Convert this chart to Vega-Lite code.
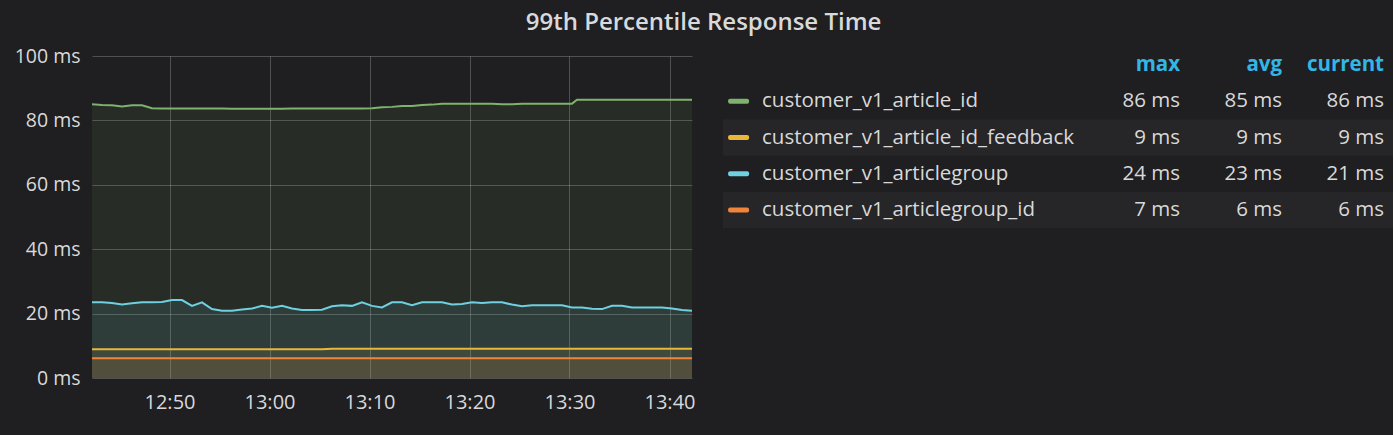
{
  "$schema": "https://vega.github.io/schema/vega-lite/v6.json",
  "background": "#1f1e20",
  "padding": {"left": 14, "top": 11, "right": 0, "bottom": 40},
  "title": {"text": "99th Percentile Response Time", "anchor": "middle", "color": "#d8d9da", "font": "Open Sans", "fontSize": 24, "fontWeight": 600, "offset": 11},
  "config": {"view": {"stroke": null}, "font": "Open Sans"},
  "datasets": {
    "ts": [
      {"time": "2017-01-01T12:42:15", "customer_v1_article_id": 85.0, "customer_v1_article_id_feedback": 8.9, "customer_v1_articlegroup": 23.5, "customer_v1_articlegroup_id": 6.1},
      {"time": "2017-01-01T12:43:15", "customer_v1_article_id": 84.8, "customer_v1_article_id_feedback": 8.9, "customer_v1_articlegroup": 23.5, "customer_v1_articlegroup_id": 6.1},
      {"time": "2017-01-01T12:44:15", "customer_v1_article_id": 84.7, "customer_v1_article_id_feedback": 8.9, "customer_v1_articlegroup": 23.3, "customer_v1_articlegroup_id": 6.1},
      {"time": "2017-01-01T12:45:15", "customer_v1_article_id": 84.3, "customer_v1_article_id_feedback": 8.9, "customer_v1_articlegroup": 22.8, "customer_v1_articlegroup_id": 6.1},
      {"time": "2017-01-01T12:46:15", "customer_v1_article_id": 84.7, "customer_v1_article_id_feedback": 8.9, "customer_v1_articlegroup": 23.2, "customer_v1_articlegroup_id": 6.1},
      {"time": "2017-01-01T12:47:15", "customer_v1_article_id": 84.7, "customer_v1_article_id_feedback": 8.9, "customer_v1_articlegroup": 23.5, "customer_v1_articlegroup_id": 6.1},
      {"time": "2017-01-01T12:48:15", "customer_v1_article_id": 83.8, "customer_v1_article_id_feedback": 8.9, "customer_v1_articlegroup": 23.5, "customer_v1_articlegroup_id": 6.1},
      {"time": "2017-01-01T12:49:15", "customer_v1_article_id": 83.7, "customer_v1_article_id_feedback": 8.9, "customer_v1_articlegroup": 23.6, "customer_v1_articlegroup_id": 6.1},
      {"time": "2017-01-01T12:50:15", "customer_v1_article_id": 83.7, "customer_v1_article_id_feedback": 8.9, "customer_v1_articlegroup": 24.2, "customer_v1_articlegroup_id": 6.1},
      {"time": "2017-01-01T12:51:15", "customer_v1_article_id": 83.7, "customer_v1_article_id_feedback": 8.9, "customer_v1_articlegroup": 24.2, "customer_v1_articlegroup_id": 6.1},
      {"time": "2017-01-01T12:52:15", "customer_v1_article_id": 83.7, "customer_v1_article_id_feedback": 8.9, "customer_v1_articlegroup": 22.4, "customer_v1_articlegroup_id": 6.1},
      {"time": "2017-01-01T12:53:15", "customer_v1_article_id": 83.7, "customer_v1_article_id_feedback": 8.9, "customer_v1_articlegroup": 23.5, "customer_v1_articlegroup_id": 6.1},
      {"time": "2017-01-01T12:54:15", "customer_v1_article_id": 83.7, "customer_v1_article_id_feedback": 8.9, "customer_v1_articlegroup": 21.4, "customer_v1_articlegroup_id": 6.1},
      {"time": "2017-01-01T12:55:15", "customer_v1_article_id": 83.7, "customer_v1_article_id_feedback": 8.9, "customer_v1_articlegroup": 20.9, "customer_v1_articlegroup_id": 6.1},
      {"time": "2017-01-01T12:56:15", "customer_v1_article_id": 83.6, "customer_v1_article_id_feedback": 8.9, "customer_v1_articlegroup": 20.9, "customer_v1_articlegroup_id": 6.1},
      {"time": "2017-01-01T12:57:15", "customer_v1_article_id": 83.6, "customer_v1_article_id_feedback": 8.9, "customer_v1_articlegroup": 21.3, "customer_v1_articlegroup_id": 6.1},
      {"time": "2017-01-01T12:58:15", "customer_v1_article_id": 83.6, "customer_v1_article_id_feedback": 8.9, "customer_v1_articlegroup": 21.6, "customer_v1_articlegroup_id": 6.1},
      {"time": "2017-01-01T12:59:15", "customer_v1_article_id": 83.6, "customer_v1_article_id_feedback": 8.9, "customer_v1_articlegroup": 22.4, "customer_v1_articlegroup_id": 6.1},
      {"time": "2017-01-01T13:00:15", "customer_v1_article_id": 83.6, "customer_v1_article_id_feedback": 8.9, "customer_v1_articlegroup": 21.8, "customer_v1_articlegroup_id": 6.1},
      {"time": "2017-01-01T13:01:15", "customer_v1_article_id": 83.6, "customer_v1_article_id_feedback": 8.9, "customer_v1_articlegroup": 22.4, "customer_v1_articlegroup_id": 6.1},
      {"time": "2017-01-01T13:02:15", "customer_v1_article_id": 83.7, "customer_v1_article_id_feedback": 8.9, "customer_v1_articlegroup": 21.6, "customer_v1_articlegroup_id": 6.1},
      {"time": "2017-01-01T13:03:15", "customer_v1_article_id": 83.7, "customer_v1_article_id_feedback": 8.9, "customer_v1_articlegroup": 21.1, "customer_v1_articlegroup_id": 6.1},
      {"time": "2017-01-01T13:04:15", "customer_v1_article_id": 83.7, "customer_v1_article_id_feedback": 8.9, "customer_v1_articlegroup": 21.1, "customer_v1_articlegroup_id": 6.1},
      {"time": "2017-01-01T13:05:15", "customer_v1_article_id": 83.7, "customer_v1_article_id_feedback": 8.9, "customer_v1_articlegroup": 21.2, "customer_v1_articlegroup_id": 6.1},
      {"time": "2017-01-01T13:06:15", "customer_v1_article_id": 83.7, "customer_v1_article_id_feedback": 9.1, "customer_v1_articlegroup": 22.3, "customer_v1_articlegroup_id": 6.1},
      {"time": "2017-01-01T13:07:15", "customer_v1_article_id": 83.7, "customer_v1_article_id_feedback": 9.1, "customer_v1_articlegroup": 22.6, "customer_v1_articlegroup_id": 6.1},
      {"time": "2017-01-01T13:08:15", "customer_v1_article_id": 83.7, "customer_v1_article_id_feedback": 9.1, "customer_v1_articlegroup": 22.4, "customer_v1_articlegroup_id": 6.1},
      {"time": "2017-01-01T13:09:15", "customer_v1_article_id": 83.7, "customer_v1_article_id_feedback": 9.1, "customer_v1_articlegroup": 23.5, "customer_v1_articlegroup_id": 6.1},
      {"time": "2017-01-01T13:10:15", "customer_v1_article_id": 83.8, "customer_v1_article_id_feedback": 9.1, "customer_v1_articlegroup": 22.4, "customer_v1_articlegroup_id": 6.1},
      {"time": "2017-01-01T13:11:15", "customer_v1_article_id": 84.1, "customer_v1_article_id_feedback": 9.1, "customer_v1_articlegroup": 21.9, "customer_v1_articlegroup_id": 6.1},
      {"time": "2017-01-01T13:12:15", "customer_v1_article_id": 84.2, "customer_v1_article_id_feedback": 9.1, "customer_v1_articlegroup": 23.5, "customer_v1_articlegroup_id": 6.1},
      {"time": "2017-01-01T13:13:15", "customer_v1_article_id": 84.5, "customer_v1_article_id_feedback": 9.1, "customer_v1_articlegroup": 23.5, "customer_v1_articlegroup_id": 6.1},
      {"time": "2017-01-01T13:14:15", "customer_v1_article_id": 84.5, "customer_v1_article_id_feedback": 9.1, "customer_v1_articlegroup": 22.6, "customer_v1_articlegroup_id": 6.1},
      {"time": "2017-01-01T13:15:15", "customer_v1_article_id": 84.8, "customer_v1_article_id_feedback": 9.1, "customer_v1_articlegroup": 23.5, "customer_v1_articlegroup_id": 6.1},
      {"time": "2017-01-01T13:16:15", "customer_v1_article_id": 84.9, "customer_v1_article_id_feedback": 9.1, "customer_v1_articlegroup": 23.5, "customer_v1_articlegroup_id": 6.1},
      {"time": "2017-01-01T13:17:15", "customer_v1_article_id": 85.2, "customer_v1_article_id_feedback": 9.1, "customer_v1_articlegroup": 23.5, "customer_v1_articlegroup_id": 6.1},
      {"time": "2017-01-01T13:18:15", "customer_v1_article_id": 85.2, "customer_v1_article_id_feedback": 9.1, "customer_v1_articlegroup": 22.8, "customer_v1_articlegroup_id": 6.1},
      {"time": "2017-01-01T13:19:15", "customer_v1_article_id": 85.2, "customer_v1_article_id_feedback": 9.1, "customer_v1_articlegroup": 23.0, "customer_v1_articlegroup_id": 6.1},
      {"time": "2017-01-01T13:20:15", "customer_v1_article_id": 85.2, "customer_v1_article_id_feedback": 9.1, "customer_v1_articlegroup": 23.5, "customer_v1_articlegroup_id": 6.1},
      {"time": "2017-01-01T13:21:15", "customer_v1_article_id": 85.2, "customer_v1_article_id_feedback": 9.1, "customer_v1_articlegroup": 23.3, "customer_v1_articlegroup_id": 6.1},
      {"time": "2017-01-01T13:22:15", "customer_v1_article_id": 85.2, "customer_v1_article_id_feedback": 9.1, "customer_v1_articlegroup": 23.5, "customer_v1_articlegroup_id": 6.1},
      {"time": "2017-01-01T13:23:15", "customer_v1_article_id": 85.0, "customer_v1_article_id_feedback": 9.1, "customer_v1_articlegroup": 23.5, "customer_v1_articlegroup_id": 6.1},
      {"time": "2017-01-01T13:24:15", "customer_v1_article_id": 85.0, "customer_v1_article_id_feedback": 9.1, "customer_v1_articlegroup": 22.8, "customer_v1_articlegroup_id": 6.1},
      {"time": "2017-01-01T13:25:15", "customer_v1_article_id": 85.2, "customer_v1_article_id_feedback": 9.1, "customer_v1_articlegroup": 22.3, "customer_v1_articlegroup_id": 6.1},
      {"time": "2017-01-01T13:26:15", "customer_v1_article_id": 85.2, "customer_v1_article_id_feedback": 9.1, "customer_v1_articlegroup": 22.6, "customer_v1_articlegroup_id": 6.1},
      {"time": "2017-01-01T13:27:15", "customer_v1_article_id": 85.2, "customer_v1_article_id_feedback": 9.1, "customer_v1_articlegroup": 22.6, "customer_v1_articlegroup_id": 6.1},
      {"time": "2017-01-01T13:28:15", "customer_v1_article_id": 85.2, "customer_v1_article_id_feedback": 9.1, "customer_v1_articlegroup": 22.6, "customer_v1_articlegroup_id": 6.1},
      {"time": "2017-01-01T13:29:15", "customer_v1_article_id": 85.2, "customer_v1_article_id_feedback": 9.1, "customer_v1_articlegroup": 22.6, "customer_v1_articlegroup_id": 6.1},
      {"time": "2017-01-01T13:30:15", "customer_v1_article_id": 85.2, "customer_v1_article_id_feedback": 9.1, "customer_v1_articlegroup": 21.9, "customer_v1_articlegroup_id": 6.1},
      {"time": "2017-01-01T13:30:45", "customer_v1_article_id": 86.4, "customer_v1_article_id_feedback": 9.1, "customer_v1_articlegroup": 21.9, "customer_v1_articlegroup_id": 6.1},
      {"time": "2017-01-01T13:31:15", "customer_v1_article_id": 86.4, "customer_v1_article_id_feedback": 9.1, "customer_v1_articlegroup": 21.9, "customer_v1_articlegroup_id": 6.1},
      {"time": "2017-01-01T13:32:15", "customer_v1_article_id": 86.4, "customer_v1_article_id_feedback": 9.1, "customer_v1_articlegroup": 21.5, "customer_v1_articlegroup_id": 6.1},
      {"time": "2017-01-01T13:33:15", "customer_v1_article_id": 86.4, "customer_v1_article_id_feedback": 9.1, "customer_v1_articlegroup": 21.4, "customer_v1_articlegroup_id": 6.1},
      {"time": "2017-01-01T13:34:15", "customer_v1_article_id": 86.4, "customer_v1_article_id_feedback": 9.1, "customer_v1_articlegroup": 22.4, "customer_v1_articlegroup_id": 6.1},
      {"time": "2017-01-01T13:35:15", "customer_v1_article_id": 86.4, "customer_v1_article_id_feedback": 9.1, "customer_v1_articlegroup": 22.4, "customer_v1_articlegroup_id": 6.1},
      {"time": "2017-01-01T13:36:15", "customer_v1_article_id": 86.4, "customer_v1_article_id_feedback": 9.1, "customer_v1_articlegroup": 21.9, "customer_v1_articlegroup_id": 6.1},
      {"time": "2017-01-01T13:37:15", "customer_v1_article_id": 86.4, "customer_v1_article_id_feedback": 9.1, "customer_v1_articlegroup": 21.9, "customer_v1_articlegroup_id": 6.1},
      {"time": "2017-01-01T13:38:15", "customer_v1_article_id": 86.4, "customer_v1_article_id_feedback": 9.1, "customer_v1_articlegroup": 21.9, "customer_v1_articlegroup_id": 6.1},
      {"time": "2017-01-01T13:39:15", "customer_v1_article_id": 86.4, "customer_v1_article_id_feedback": 9.1, "customer_v1_articlegroup": 21.9, "customer_v1_articlegroup_id": 6.1},
      {"time": "2017-01-01T13:40:15", "customer_v1_article_id": 86.4, "customer_v1_article_id_feedback": 9.1, "customer_v1_articlegroup": 21.6, "customer_v1_articlegroup_id": 6.1},
      {"time": "2017-01-01T13:41:15", "customer_v1_article_id": 86.4, "customer_v1_article_id_feedback": 9.1, "customer_v1_articlegroup": 21.1, "customer_v1_articlegroup_id": 6.1},
      {"time": "2017-01-01T13:42:15", "customer_v1_article_id": 86.4, "customer_v1_article_id_feedback": 9.1, "customer_v1_articlegroup": 20.9, "customer_v1_articlegroup_id": 6.1}
    ],
    "stats": [
      {"series": "customer_v1_article_id", "max": 86, "avg": 85, "current": 86},
      {"series": "customer_v1_article_id_feedback", "max": 9, "avg": 9, "current": 9},
      {"series": "customer_v1_articlegroup", "max": 24, "avg": 23, "current": 21},
      {"series": "customer_v1_articlegroup_id", "max": 7, "avg": 6, "current": 6}
    ]
  },
  "spacing": 28,
  "hconcat": [
    {
      "width": 600,
      "height": 322,
      "data": {"name": "ts"},
      "transform": [
        {"fold": ["customer_v1_article_id", "customer_v1_article_id_feedback", "customer_v1_articlegroup", "customer_v1_articlegroup_id"], "as": ["series", "value"]}
      ],
      "encoding": {
        "x": {
          "field": "time", "type": "temporal",
          "scale": {"domain": [{"year": 2017, "month": 1, "date": 1, "hours": 12, "minutes": 42, "seconds": 15}, {"year": 2017, "month": 1, "date": 1, "hours": 13, "minutes": 42, "seconds": 15}]},
          "axis": {
            "title": null, "format": "%H:%M",
            "values": [
              {"year": 2017, "month": 1, "date": 1, "hours": 12, "minutes": 50},
              {"year": 2017, "month": 1, "date": 1, "hours": 13, "minutes": 0},
              {"year": 2017, "month": 1, "date": 1, "hours": 13, "minutes": 10},
              {"year": 2017, "month": 1, "date": 1, "hours": 13, "minutes": 20},
              {"year": 2017, "month": 1, "date": 1, "hours": 13, "minutes": 30},
              {"year": 2017, "month": 1, "date": 1, "hours": 13, "minutes": 40}
            ],
            "labelFont": "Open Sans", "labelFontSize": 20, "labelColor": "#d8d9da", "labelPadding": 14, "labelFlush": false,
            "domain": false, "ticks": false, "grid": true, "gridColor": "#ffffff", "gridOpacity": 0.22
          }
        },
        "y": {
          "field": "value", "type": "quantitative", "stack": null,
          "scale": {"domain": [0, 100], "nice": false, "zero": true},
          "axis": {
            "title": null, "values": [0, 20, 40, 60, 80, 100], "labelExpr": "datum.value + ' ms'",
            "labelFont": "Open Sans", "labelFontSize": 19.5, "labelColor": "#d8d9da", "labelPadding": 12,
            "domain": false, "ticks": false, "grid": true, "gridColor": "#ffffff", "gridOpacity": 0.22
          }
        },
        "color": {
          "field": "series", "type": "nominal",
          "scale": {"domain": ["customer_v1_article_id", "customer_v1_article_id_feedback", "customer_v1_articlegroup", "customer_v1_articlegroup_id"], "range": ["#7eb26d", "#eab839", "#6ed0e0", "#ef843c"]},
          "legend": null
        }
      },
      "layer": [
        {"mark": {"type": "area", "opacity": 1, "fillOpacity": 0.1, "interpolate": "linear", "clip": true}},
        {"mark": {"type": "line", "strokeWidth": 2, "interpolate": "linear", "clip": true}}
      ]
    },
    {
      "spacing": 0,
      "hconcat": [
        {
          "width": 39, "height": 163,
          "data": {"name": "stats"},
          "layer": [
            {
              "transform": [{"filter": "datum.series == 'customer_v1_article_id_feedback' || datum.series == 'customer_v1_articlegroup_id'"}],
              "mark": {"type": "bar", "color": "#262527", "height": 36.3},
              "encoding": {"y": {"field": "series", "type": "nominal", "scale": {"type": "point", "domain": ["header", "customer_v1_article_id", "customer_v1_article_id_feedback", "customer_v1_articlegroup", "customer_v1_articlegroup_id"], "padding": 0.25}, "axis": null}}
            },
            {
              "mark": {"type": "tick", "orient": "horizontal", "size": 21, "thickness": 5, "cornerRadius": 2, "opacity": 1},
              "encoding": {
                "x": {"datum": "swatch", "type": "nominal", "scale": {"type": "point", "padding": 0, "align": 0.4}, "axis": null},
                "y": {"field": "series", "type": "nominal", "axis": null},
                "color": {"field": "series", "type": "nominal", "legend": null}
              }
            }
          ]
        },
        {
          "width": 349, "height": 163,
          "data": {"name": "stats"},
          "layer": [
            {
              "transform": [{"filter": "datum.series == 'customer_v1_article_id_feedback' || datum.series == 'customer_v1_articlegroup_id'"}],
              "mark": {"type": "bar", "color": "#262527", "height": 36.3},
              "encoding": {"y": {"field": "series", "type": "nominal", "scale": {"type": "point", "domain": ["header", "customer_v1_article_id", "customer_v1_article_id_feedback", "customer_v1_articlegroup", "customer_v1_articlegroup_id"], "padding": 0.25}, "axis": null}}
            },
            {
              "mark": {"type": "text", "align": "left", "baseline": "middle", "font": "Open Sans", "fontSize": 20.5, "color": "#d8d9da"},
              "encoding": {
                "x": {"datum": "name", "type": "nominal", "scale": {"type": "point", "padding": 0, "align": 0}, "axis": null},
                "y": {"field": "series", "type": "nominal", "axis": null},
                "text": {"field": "series"}
              }
            }
          ]
        },
        {
          "width": 69, "height": 163,
          "data": {"name": "stats"},
          "transform": [{"calculate": "datum.max + ' ms'", "as": "label"}],
          "layer": [
            {
              "transform": [{"filter": "datum.series == 'customer_v1_article_id_feedback' || datum.series == 'customer_v1_articlegroup_id'"}],
              "mark": {"type": "bar", "color": "#262527", "height": 36.3},
              "encoding": {"y": {"field": "series", "type": "nominal", "scale": {"type": "point", "domain": ["header", "customer_v1_article_id", "customer_v1_article_id_feedback", "customer_v1_articlegroup", "customer_v1_articlegroup_id"], "padding": 0.25}, "axis": null}}
            },
            {
              "data": {"values": [{"h": "max"}]},
              "mark": {"type": "text", "align": "right", "baseline": "middle", "font": "Open Sans", "fontSize": 20.5, "fontWeight": "bold", "color": "#33b5e5"},
              "encoding": {
                "x": {"datum": "col", "type": "nominal", "scale": {"type": "point", "padding": 0, "align": 1}, "axis": null},
                "y": {"datum": "header", "type": "nominal", "axis": null},
                "text": {"field": "h"}
              }
            },
            {
              "mark": {"type": "text", "align": "right", "baseline": "middle", "font": "Open Sans", "fontSize": 20.5, "color": "#d8d9da"},
              "encoding": {
                "x": {"datum": "col", "type": "nominal", "axis": null},
                "y": {"field": "series", "type": "nominal", "axis": null},
                "text": {"field": "label"}
              }
            }
          ]
        },
        {
          "width": 102, "height": 163,
          "data": {"name": "stats"},
          "transform": [{"calculate": "datum.avg + ' ms'", "as": "label"}],
          "layer": [
            {
              "transform": [{"filter": "datum.series == 'customer_v1_article_id_feedback' || datum.series == 'customer_v1_articlegroup_id'"}],
              "mark": {"type": "bar", "color": "#262527", "height": 36.3},
              "encoding": {"y": {"field": "series", "type": "nominal", "scale": {"type": "point", "domain": ["header", "customer_v1_article_id", "customer_v1_article_id_feedback", "customer_v1_articlegroup", "customer_v1_articlegroup_id"], "padding": 0.25}, "axis": null}}
            },
            {
              "data": {"values": [{"h": "avg"}]},
              "mark": {"type": "text", "align": "right", "baseline": "middle", "font": "Open Sans", "fontSize": 20.5, "fontWeight": "bold", "color": "#33b5e5"},
              "encoding": {
                "x": {"datum": "col", "type": "nominal", "scale": {"type": "point", "padding": 0, "align": 1}, "axis": null},
                "y": {"datum": "header", "type": "nominal", "axis": null},
                "text": {"field": "h"}
              }
            },
            {
              "mark": {"type": "text", "align": "right", "baseline": "middle", "font": "Open Sans", "fontSize": 20.5, "color": "#d8d9da"},
              "encoding": {
                "x": {"datum": "col", "type": "nominal", "axis": null},
                "y": {"field": "series", "type": "nominal", "axis": null},
                "text": {"field": "label"}
              }
            }
          ]
        },
        {
          "width": 111, "height": 163,
          "data": {"name": "stats"},
          "transform": [{"calculate": "datum.current + ' ms'", "as": "label"}],
          "layer": [
            {
              "transform": [{"filter": "datum.series == 'customer_v1_article_id_feedback' || datum.series == 'customer_v1_articlegroup_id'"}],
              "mark": {"type": "bar", "color": "#262527", "height": 36.3},
              "encoding": {"y": {"field": "series", "type": "nominal", "scale": {"type": "point", "domain": ["header", "customer_v1_article_id", "customer_v1_article_id_feedback", "customer_v1_articlegroup", "customer_v1_articlegroup_id"], "padding": 0.25}, "axis": null}}
            },
            {
              "data": {"values": [{"h": "current"}]},
              "mark": {"type": "text", "align": "right", "baseline": "middle", "font": "Open Sans", "fontSize": 20.5, "fontWeight": "bold", "color": "#33b5e5"},
              "encoding": {
                "x": {"datum": "col", "type": "nominal", "scale": {"type": "point", "padding": 0, "align": 0.919}, "axis": null},
                "y": {"datum": "header", "type": "nominal", "axis": null},
                "text": {"field": "h"}
              }
            },
            {
              "mark": {"type": "text", "align": "right", "baseline": "middle", "font": "Open Sans", "fontSize": 20.5, "color": "#d8d9da"},
              "encoding": {
                "x": {"datum": "col", "type": "nominal", "axis": null},
                "y": {"field": "series", "type": "nominal", "axis": null},
                "text": {"field": "label"}
              }
            }
          ]
        }
      ]
    }
  ]
}
